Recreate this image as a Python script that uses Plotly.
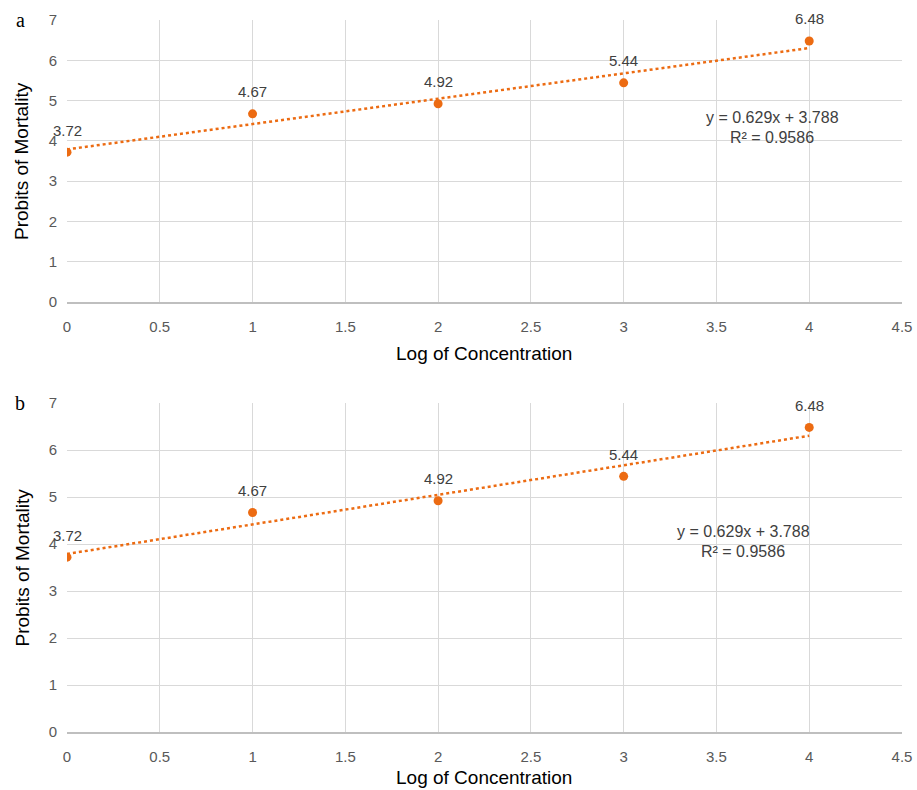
import numpy as np
import plotly.graph_objects as go

log_conc = [0, 1, 2, 3, 4]
probits = [3.72, 4.67, 4.92, 5.44, 6.48]
point_labels = ["3.72", "4.67", "4.92", "5.44", "6.48"]
x_ticks = [0, 0.5, 1, 1.5, 2, 2.5, 3, 3.5, 4, 4.5]
x_tick_text = ["0", "0.5", "1", "1.5", "2", "2.5", "3", "3.5", "4", "4.5"]
y_ticks = [0, 1, 2, 3, 4, 5, 6, 7]
panel_letters = ["a", "b"]

ORANGE = "#EC6B12"
W, H = 917, 790
L, R = 67, 15
SANS = "Liberation Sans, Arial"

slope, intercept = np.polyfit(log_conc, probits, 1)
pred = np.polyval([slope, intercept], log_conc)
ss_res = np.sum((np.array(probits) - pred) ** 2)
ss_tot = np.sum((np.array(probits) - np.mean(probits)) ** 2)
r2 = 1 - ss_res / ss_tot
eq_line = f"y = {slope:.3f}x + {intercept:.3f}"
r2_line = f"R² = {r2:.4f}"

# panel pixel extents (top, bottom)
panels = [(20, 302), (403, 732)]
eq_pos = [(772, 117, 137), (743, 531, 551)]
xtitle_off = [52, 45]

fig = go.Figure()
annotations = []
layout = {}
for i, (top, bot) in enumerate(panels):
    n = "" if i == 0 else str(i + 1)
    xa, ya = "x" + n, "y" + n
    dom = [1 - bot / H, 1 - top / H]
    fx = np.array([min(log_conc), max(log_conc)])
    fig.add_trace(go.Scatter(
        x=fx, y=np.polyval([slope, intercept], fx), mode="lines",
        line=dict(color=ORANGE, width=2.5, dash="dot"),
        xaxis=xa, yaxis=ya, showlegend=False, hoverinfo="skip"))
    fig.add_trace(go.Scatter(
        x=log_conc, y=probits, mode="markers",
        marker=dict(color=ORANGE, size=9),
        xaxis=xa, yaxis=ya, showlegend=False))
    for xv, yv, t in zip(log_conc, probits, point_labels):
        annotations.append(dict(x=xv, y=yv, xref=xa, yref=ya, text=t,
                                showarrow=False, yshift=22,
                                font=dict(family=SANS, size=15, color="#404040")))
    layout["xaxis" + n] = dict(
        domain=[L / W, 1 - R / W], anchor=ya, range=[0, 4.5], automargin=False,
        tickvals=x_ticks, ticktext=x_tick_text, showgrid=True,
        gridcolor="#D9D9D9", gridwidth=1, zeroline=False,
        showline=True, linecolor="#BFBFBF", linewidth=1.5,
        ticks="outside", ticklen=10, tickcolor="rgba(0,0,0,0)",
        tickfont=dict(family=SANS, size=15, color="#595959"))
    layout["yaxis" + n] = dict(
        domain=dom, anchor=xa, range=[0, 7], tickvals=y_ticks, automargin=False,
        showgrid=True, gridcolor="#D9D9D9", gridwidth=1, zeroline=False,
        showline=False, ticks="outside", ticklen=6, tickcolor="rgba(0,0,0,0)",
        tickfont=dict(family=SANS, size=15, color="#595959"))
    annotations.append(dict(x=0.5 * (L + W - R) / W, y=1 - (bot + xtitle_off[i]) / H,
                            xref="paper", yref="paper", text="Log of Concentration",
                            showarrow=False, yanchor="middle",
                            font=dict(family=SANS, size=19, color="#000000")))
    annotations.append(dict(x=22 / W, y=1 - (top + bot) / 2 / H, xref="paper", yref="paper",
                            text="Probits of Mortality", textangle=-90, showarrow=False,
                            xanchor="center", yanchor="middle",
                            font=dict(family=SANS, size=19, color="#000000")))
    annotations.append(dict(x=20 / W, y=1 - top / H, xref="paper", yref="paper",
                            text=panel_letters[i], showarrow=False, xanchor="center", yanchor="middle",
                            font=dict(family="Liberation Serif, Times New Roman", size=20, color="#000000")))
    ex, ey1, ey2 = eq_pos[i]
    for txt, ey in ((eq_line, ey1), (r2_line, ey2)):
        annotations.append(dict(x=ex / W, y=1 - ey / H, xref="paper", yref="paper",
                                text=txt, showarrow=False,
                                xanchor="center", yanchor="middle",
                                font=dict(family=SANS, size=16, color="#404040")))

fig.update_layout(width=W, height=H, margin=dict(l=0, r=0, t=0, b=0, pad=0),
                  paper_bgcolor="white", plot_bgcolor="white",
                  annotations=annotations, **layout)
fig.write_html("out.html", config={"displayModeBar": False},
               post_script="document.body.style.margin='0';document.body.style.overflow='hidden';")
